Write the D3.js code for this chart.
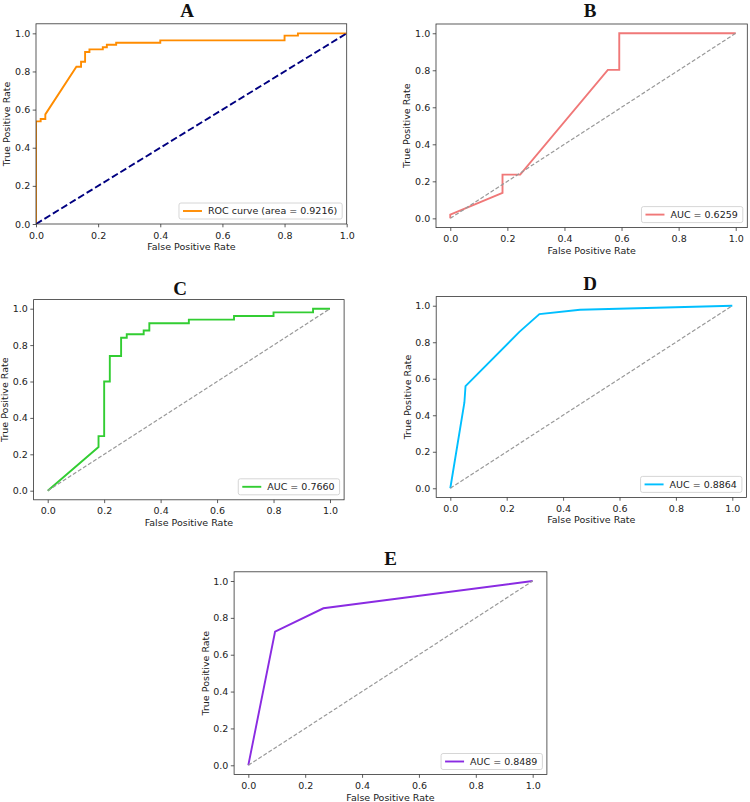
<!doctype html>
<html>
<head>
  <meta charset="utf-8">
  <title>ROC curves A-E</title>
  <script src="https://d3js.org/d3.v7.min.js"></script>
  <style>
  body { margin: 0; background: #fff; }
  svg text { font-family: "DejaVu Sans", sans-serif; fill: #222; }
  .title { font-family: "Liberation Serif", "Times New Roman", serif; font-weight: bold; font-size: 19px; fill: #111; }
  </style>
</head>
<body>
<svg id="fig" width="750" height="802"></svg>
<script>
// values
var ticks = [0, 0.2, 0.4, 0.6, 0.8, 1.0];

var fprA = [0, 0, 0.015, 0.015, 0.03, 0.03, 0.13, 0.145, 0.145, 0.158, 0.158, 0.172, 0.172, 0.215, 0.215, 0.228, 0.228, 0.258, 0.258, 0.40, 0.40, 0.80, 0.80, 0.843, 0.843, 1.0];
var tprA = [0, 0.538, 0.538, 0.551, 0.551, 0.575, 0.825, 0.825, 0.851, 0.851, 0.902, 0.902, 0.916, 0.916, 0.927, 0.927, 0.940, 0.940, 0.951, 0.951, 0.963, 0.963, 0.988, 0.988, 1.0, 1.0];

var fprB = [0, 0, 0.183, 0.183, 0.245, 0.552, 0.592, 0.592, 1.0];
var tprB = [0, 0.02, 0.138, 0.236, 0.236, 0.802, 0.802, 1.0, 1.0];

var fprC = [0, 0.18, 0.18, 0.20, 0.20, 0.22, 0.22, 0.26, 0.26, 0.28, 0.28, 0.34, 0.34, 0.36, 0.36, 0.50, 0.50, 0.66, 0.66, 0.80, 0.80, 0.94, 0.94, 1.0];
var tprC = [0, 0.24, 0.30, 0.30, 0.60, 0.60, 0.74, 0.74, 0.84, 0.84, 0.86, 0.86, 0.88, 0.88, 0.92, 0.92, 0.94, 0.94, 0.96, 0.96, 0.98, 0.98, 1.0, 1.0];

var fprD = [0, 0.05, 0.054, 0.245, 0.316, 0.46, 1.0];
var tprD = [0, 0.47, 0.56, 0.857, 0.954, 0.978, 1.0];

var fprE = [0, 0.094, 0.264, 1.0];
var tprE = [0, 0.725, 0.852, 1.0];

var panelTitles = ['A', 'B', 'C', 'D', 'E'];
var legendLabels = ['ROC curve (area = 0.9216)', 'AUC = 0.6259', 'AUC = 0.7660', 'AUC = 0.8864', 'AUC = 0.8489'];

// layout of each subplot (pixels)
var panels = [
  { fpr: fprA, tpr: tprA, color: '#ff8c00', diag: 'navy', L: 36, R: 346.7, T: 23.8, B: 224, xd: [0, 1], yd: [0, 1.05], tx: 187, ty: 17 },
  { fpr: fprB, tpr: tprB, color: '#f07878', diag: 'gray', L: 436, R: 750, frameR: 747.3, T: 24, B: 227.6, xd: [-0.05, 1.05], yd: [-0.05, 1.05], tx: 590, ty: 17.2 },
  { fpr: fprC, tpr: tprC, color: '#32cd32', diag: 'gray', L: 33.6, R: 344.1, T: 299.6, B: 499.8, xd: [-0.05, 1.05], yd: [-0.05, 1.05], tx: 180, ty: 295 },
  { fpr: fprD, tpr: tprD, color: '#00bfff', diag: 'gray', L: 436.2, R: 746.4, T: 296.6, B: 497.4, xd: [-0.05, 1.05], yd: [-0.05, 1.05], tx: 590, ty: 290 },
  { fpr: fprE, tpr: tprE, color: '#8a2be2', diag: 'gray', L: 234.1, R: 546.9, T: 571.8, B: 774.5, xd: [-0.05, 1.05], yd: [-0.05, 1.05], tx: 390.7, ty: 565 }
];

var svg = d3.select('#fig');
var fmt = d3.format('.1f');

panels.forEach(function(p, i){
  var fr = p.frameR || p.R;
  var x = d3.scaleLinear().domain(p.xd).range([p.L, p.R]);
  var y = d3.scaleLinear().domain(p.yd).range([p.B, p.T]);
  var g = svg.append('g');

  var clipId = 'clip' + i;
  g.append('clipPath').attr('id', clipId)
    .append('rect')
      .attr('x', p.L).attr('y', p.T)
      .attr('width', fr - p.L).attr('height', p.B - p.T);

  var pts = p.fpr.map(function(d, k){ return [d, p.tpr[k]]; });
  var line = d3.line().x(function(d){ return x(d[0]); }).y(function(d){ return y(d[1]); });

  var plot = g.append('g').attr('clip-path', 'url(#' + clipId + ')');
  plot.append('path')
    .attr('d', line(pts))
    .attr('fill', 'none')
    .attr('stroke', p.color)
    .attr('stroke-width', 1.9)
    .attr('stroke-linejoin', 'miter');

  var diag = plot.append('path')
    .attr('d', line([[0, 0], [1, 1]]))
    .attr('fill', 'none');
  if(p.diag === 'navy'){
    diag.attr('stroke', '#000080').attr('stroke-width', 1.9).attr('stroke-dasharray', '6.9,3');
  } else {
    diag.attr('stroke', '#999').attr('stroke-width', 1.2).attr('stroke-dasharray', '4,2');
  }

  // axes
  var xAxis = d3.axisBottom(x).tickValues(ticks).tickFormat(fmt).tickSize(3.3).tickPadding(4.5);
  var yAxis = d3.axisLeft(y).tickValues(ticks).tickFormat(fmt).tickSize(3.3).tickPadding(2.5);
  var gx = g.append('g').attr('transform', 'translate(0,' + p.B + ')').call(xAxis);
  var gy = g.append('g').attr('transform', 'translate(' + p.L + ',0)').call(yAxis);
  [gx, gy].forEach(function(a){
    a.select('.domain').remove();
    a.selectAll('line').attr('stroke', '#333').attr('stroke-width', 0.8);
    a.selectAll('text').attr('font-size', '9.5px').attr('fill', '#222')
      .style('font-family', '"DejaVu Sans", sans-serif');
  });

  // frame
  g.append('rect')
    .attr('x', p.L).attr('y', p.T)
    .attr('width', fr - p.L).attr('height', p.B - p.T)
    .attr('fill', 'none').attr('stroke', '#333').attr('stroke-width', 0.8);

  // labels
  g.append('text')
    .attr('x', (p.L + fr) / 2).attr('y', p.B + 26)
    .attr('text-anchor', 'middle').attr('font-size', '9.5px')
    .text('False Positive Rate');
  g.append('text')
    .attr('transform', 'translate(' + (p.L - 25.6) + ',' + ((p.T + p.B) / 2) + ') rotate(-90)')
    .attr('text-anchor', 'middle').attr('font-size', '9.5px')
    .text('True Positive Rate');
  g.append('text')
    .attr('class', 'title')
    .attr('x', p.tx).attr('y', p.ty)
    .attr('text-anchor', 'middle')
    .text(panelTitles[i]);

  // legend
  var leg = g.append('g');
  var box = leg.append('rect');
  var lt = leg.append('text').attr('font-size', '9.5px').text(legendLabels[i]);
  var w = lt.node().getComputedTextLength() + 34;
  var lx = fr - 4.5 - w, ly = p.B - 5 - 16;
  box.attr('x', lx).attr('y', ly).attr('width', w).attr('height', 16)
    .attr('rx', 2).attr('fill', '#fff').attr('fill-opacity', 0.8)
    .attr('stroke', '#ccc').attr('stroke-width', 0.8);
  leg.append('line')
    .attr('x1', lx + 4).attr('x2', lx + 23)
    .attr('y1', ly + 8).attr('y2', ly + 8)
    .attr('stroke', p.color).attr('stroke-width', 1.9);
  lt.attr('x', lx + 29).attr('y', ly + 11.4);
});
</script>
</body>
</html>
